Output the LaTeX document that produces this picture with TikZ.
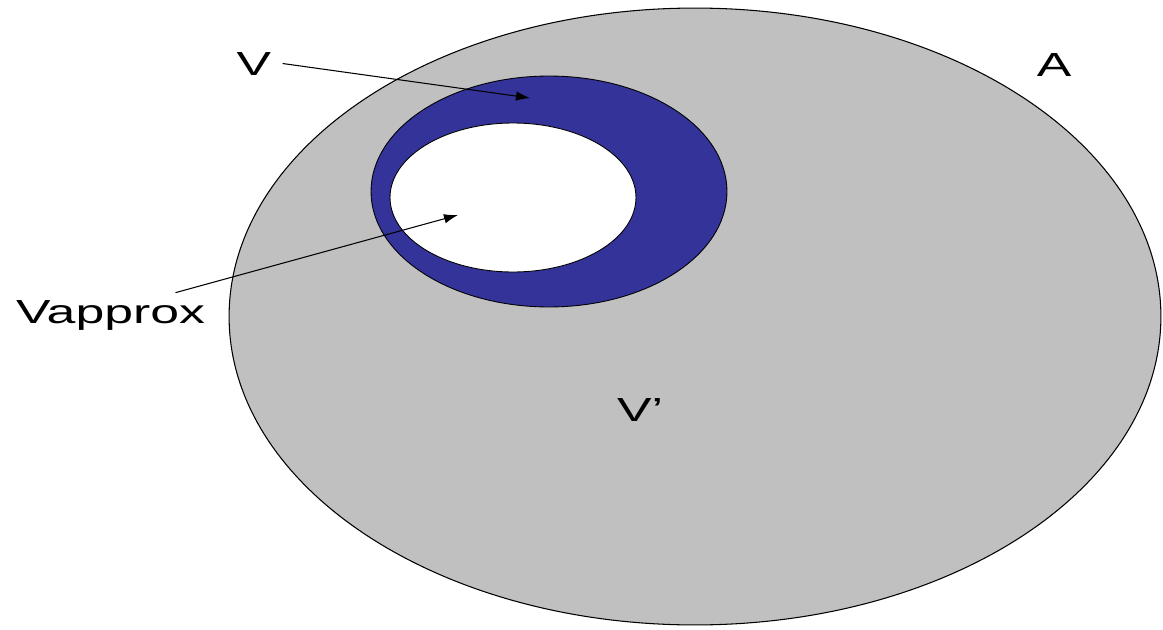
\documentclass[tikz,border=0pt]{standalone}
\usepackage{fontspec}
\setmainfont{Liberation Sans}
\usetikzlibrary{arrows.meta}

\definecolor{setgrey}{RGB}{192,192,192}
\definecolor{setblue}{RGB}{51,51,153}

\begin{document}
\begin{tikzpicture}[x=0.02cm, y=-0.02cm, every node/.style={font=\fontsize{19}{23}\selectfont, xscale=1.55, inner sep=4pt, anchor=base}, >={Latex[length=2.8mm, width=1.9mm]}]
	\useasboundingbox (0,0) rectangle (1163,629);
	\draw[fill=setgrey, line width=0.6pt] (695,316.5) ellipse [x radius=9.32cm, y radius=6.17cm];
	\draw[fill=setblue, line width=0.5pt] (549,191.5) ellipse [x radius=3.56cm, y radius=2.31cm];
	\draw[fill=white, line width=0.5pt] (513,197.5) ellipse [x radius=2.46cm, y radius=1.49cm];
	\node (lblV) at (254,75) {V};
	\node (lblA) at (1054,76) {A};
	\node (lblVapprox) at (110.5,323) {Vapprox};
	\node (lblVprime) at (640,421) {V’};
	\coordinate (tipV) at (530,98);
	\coordinate (tipVapprox) at (458,215);
	\draw[->, line width=0.6pt] (lblV.east) -- (tipV);
	\draw[->, line width=0.6pt] ([xshift=1.3cm]lblVapprox.north) -- (tipVapprox);
\end{tikzpicture}
\end{document}
